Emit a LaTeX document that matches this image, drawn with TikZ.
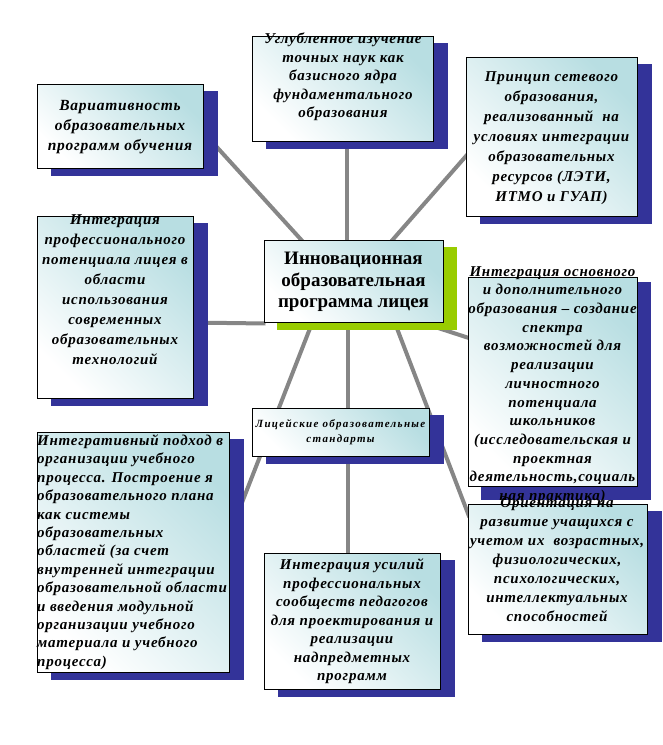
\documentclass[tikz,border=0pt]{standalone}
\usepackage{fontspec}
\setmainfont{Liberation Serif}
\newfontfamily\boxfont[LetterSpace=5]{Liberation Serif}
\newfontfamily\smallboxfont[LetterSpace=12]{Liberation Serif}
\usetikzlibrary{calc}
\definecolor{shblue}{HTML}{333399}
\definecolor{shgreen}{HTML}{99CC00}
\definecolor{boxteal}{HTML}{B8DEE2}
\definecolor{lnk}{HTML}{868686}
\pgfdeclarelayer{bg}
\pgfdeclarelayer{shd}
\pgfsetlayers{bg,shd,main}
\begin{document}
\begin{tikzpicture}[x=1pt,y=-1pt,
  box/.style={draw=black, line width=1pt, inner sep=0pt,
    top color=boxteal, bottom color=white, shading angle=-45},
  txt/.style={font=\boxfont\bfseries\itshape\fontsize{15}{19}\selectfont,
    align=center, inner sep=0pt},
  link/.style={draw=lnk, line width=4pt}
]
\useasboundingbox (0,0) rectangle (662,745);
% boxes
\node[box, minimum width=166pt, minimum height=84pt]  (var)   at (120,126)   {};
\node[box, minimum width=181pt, minimum height=105pt] (top)   at (342.5,88.5) {};
\node[box, minimum width=171pt, minimum height=159pt] (princ) at (551.5,136.5) {};
\node[box, minimum width=156pt, minimum height=182pt] (prof)  at (115,307)   {};
\node[box, minimum width=179pt, minimum height=82pt]  (c)     at (353.5,281) {};
\node[box, minimum width=169pt, minimum height=209pt] (osn)   at (552.5,381.5) {};
\node[box, minimum width=177pt, minimum height=48pt]  (lyc)   at (340.5,432) {};
\node[box, minimum width=192pt, minimum height=240pt] (integ) at (133,552)   {};
\node[box, minimum width=176pt, minimum height=136pt] (usil)  at (352,621)   {};
\node[box, minimum width=179pt, minimum height=130pt] (orient) at (557.5,569) {};
% texts
\node[txt, font=\boxfont\bfseries\itshape\fontsize{15.5}{20}\selectfont] (tvar) at (120,127) {Вариативность\\образовательных\\программ обучения};
\node[txt, font=\boxfont\bfseries\itshape\fontsize{15}{18.5}\selectfont] (ttop) at (343,77) {Углубленное изучение\\точных наук как\\базисного ядра\\фундаментального\\образования};
\node[txt, font=\boxfont\bfseries\itshape\fontsize{15}{20}\selectfont] (tprinc) at (551.5,138) {Принцип сетевого\\образования,\\реализованный~ на\\условиях интеграции\\образовательных\\ресурсов (ЛЭТИ,\\ИТМО и ГУАП)};
\node[txt, font=\boxfont\bfseries\itshape\fontsize{15}{20}\selectfont] (tprof) at (115,290) {Интеграция\\профессионального\\потенциала лицея в\\области\\использования\\современных\\образовательных\\технологий};
\node[inner sep=0pt, align=center, font=\bfseries\fontsize{19}{21.5}\selectfont] (tc) at (353.5,282) {Инновационная\\образовательная\\программа лицея};
\node[txt, font=\boxfont\bfseries\itshape\fontsize{15}{18.7}\selectfont] (tosn) at (552.5,385) {Интеграция основного\\и дополнительного\\образования – создание\\спектра\\возможностей для\\реализации\\личностного\\потенциала\\школьников\\(исследовательская и\\проектная\\деятельность,социаль\\ная практика)};
\node[txt, font=\smallboxfont\bfseries\itshape\fontsize{11}{15}\selectfont] (tlyc) at (340.5,432.5) {Лицейские образовательные\\стандарты};
\node[txt, anchor=west, align=left, font=\boxfont\bfseries\itshape\fontsize{15}{18.4}\selectfont] (tinteg) at (37,552) {Интегративный подход в\\организации учебного\\процесса. Построение я\\образовательного плана\\как системы\\образовательных\\областей (за счет\\внутренней интеграции\\образовательной области\\и введения модульной\\организации учебного\\материала и учебного\\процесса)};
\node[txt, font=\boxfont\bfseries\itshape\fontsize{15}{18.5}\selectfont] (tusil) at (352,621.5) {Интеграция усилий\\профессиональных\\сообществ педагогов\\для проектирования и\\реализации\\надпредметных\\программ};
\node[txt, font=\boxfont\bfseries\itshape\fontsize{15}{19}\selectfont] (torient) at (557,560) {Ориентация на\\развитие учащихся с\\учетом их~ возрастных,\\физиологических,\\психологических,\\интеллектуальных\\способностей};
% shadows
\begin{pgfonlayer}{shd}
  \foreach \n in {var,top,princ,prof,lyc,integ,usil,orient}
    \fill[shblue] ($(\n.south west)+(14,7)$) rectangle ($(\n.north east)+(14,7)$);
  \fill[shblue] ($(osn.south west)+(13,13)$) rectangle ($(osn.north east)+(13,5)$);
  \fill[shgreen] ($(c.south west)+(13,7)$) rectangle ($(c.north east)+(13,7)$);
\end{pgfonlayer}
% connectors
\begin{pgfonlayer}{bg}
  \draw[link] ($(var.north west)+(168,50)$) -- ($(c.north west)+(42,5)$);
  \draw[link] ($(top.south west)+(95,-6)$) -- ($(c.north west)+(83,5)$);
  \draw[link] ($(princ.south west)+(8,-69)$) -- ($(c.north west)+(125,5)$);
  \draw[link] ($(prof.north east)+(-5,107)$) -- ($(c.south west)+(2,1)$);
  \draw[link] ($(c.south west)+(48,2)$) -- ($(integ.north east)+(9,80)$);
  \draw[link] ($(c.south west)+(84,-3)$) -- ($(usil.north west)+(84,4)$);
  \draw[link] ($(c.south west)+(132,2)$) -- ($(orient.north west)+(2,14)$);
  \draw[link] ($(c.south east)+(-13,3)$) -- ($(osn.north west)+(6,63)$);
\end{pgfonlayer}
\end{tikzpicture}
\end{document}
